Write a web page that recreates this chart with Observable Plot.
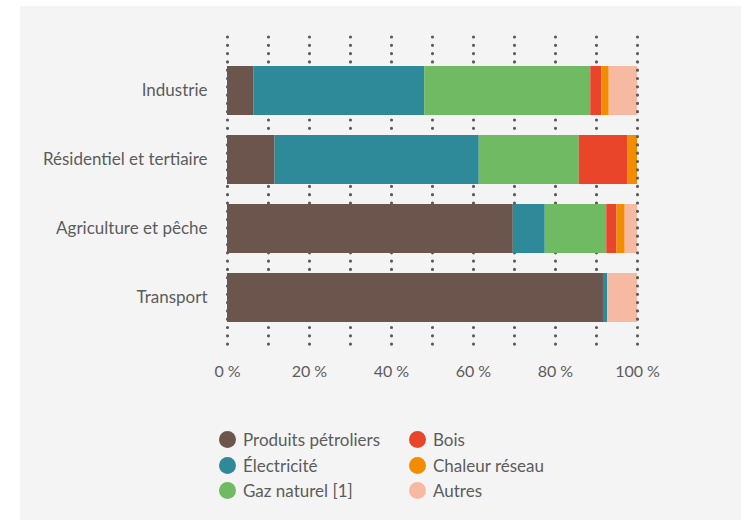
<!DOCTYPE html>
<html>
<head>
<meta charset="utf-8">
<script src="https://cdn.jsdelivr.net/npm/d3@7"></script>
<script src="https://cdn.jsdelivr.net/npm/@observablehq/plot@0.6"></script>
<style>
  html, body { margin: 0; padding: 0; background: #ffffff; width: 745px; height: 520px; overflow: hidden; }
  #panel { position: absolute; left: 20px; top: 6px; width: 721px; height: 514px; background: #f4f4f4; }
  #chart { position: absolute; left: 0; top: 0; }
  #legend { position: absolute; left: 219px; top: 427px; display: grid; grid-template-columns: 190px auto; grid-auto-rows: 25.5px;
            font-family: Lato, sans-serif; font-size: 17px; color: #5c5c5c; }
  .item { display: flex; align-items: center; }
  .sw { width: 17px; height: 17px; border-radius: 50%; margin-right: 7px; flex: none; }
  #chart svg g[aria-label="y-axis tick label"] text { font-size: 17px; }
</style>
</head>
<body>
<div id="panel"></div>
<div id="chart"></div>
<div id="legend"></div>
<script>
// Categories (top to bottom)
const sectors = ["Industrie", "Résidentiel et tertiaire", "Agriculture et pêche", "Transport"];
// Energy series (stack order, left to right)
const energies = ["Produits pétroliers", "Électricité", "Gaz naturel [1]", "Bois", "Chaleur réseau", "Autres"];
const colors = ["#6b554c", "#2e8a99", "#6fba63", "#e8452a", "#f28c00", "#f6b9a2"];
// Shares (%) per sector, same order as sectors
const produitsPetroliers = [6.4, 11.6, 69.7, 91.7];
const electricite        = [41.7, 49.8, 7.8, 1.0];
const gazNaturel         = [40.5, 24.4, 15.0, 0];
const bois               = [2.7, 11.9, 2.5, 0];
const chaleurReseau      = [1.8, 2.3, 2.0, 0];
const autres             = [6.9, 0, 3.0, 7.3];
// Axis ticks
const gridTicks = [0, 10, 20, 30, 40, 50, 60, 70, 80, 90, 100];
const labelTicks = [0, 20, 40, 60, 80, 100];
const edgeTicks = [0, 100];

const seriesValues = [produitsPetroliers, electricite, gazNaturel, bois, chaleurReseau, autres];
const data = [];
energies.forEach((e, i) => sectors.forEach((s, j) => data.push({sector: s, energy: e, value: seriesValues[i][j]})));

const grid = {stroke: "#5c5c5c", strokeWidth: 3.2, strokeDasharray: "0,8.3", strokeLinecap: "round", strokeOpacity: 1};

const chart = Plot.plot({
  width: 745,
  height: 400,
  marginLeft: 227,
  marginRight: 108,
  marginTop: 37,
  marginBottom: 48,
  style: {background: "transparent", fontFamily: "Lato, sans-serif", fontSize: "16px", color: "#5c5c5c"},
  x: {domain: [0, 100], ticks: labelTicks, tickFormat: d => d + "\u202f%", tickSize: 0, tickPadding: 13, label: null},
  y: {domain: sectors, paddingInner: 20 / 70, paddingOuter: 0.393, tickSize: 0, tickPadding: 20, label: null},
  color: {domain: energies, range: colors},
  marks: [
    Plot.ruleX(gridTicks.filter(t => t !== 0 && t !== 100), grid),
    Plot.barX(data, Plot.stackX({x: "value", y: "sector", fill: "energy", order: null})),
    Plot.ruleX(edgeTicks, grid)
  ]
});
chart.querySelectorAll('g[aria-label="y-axis tick label"] text').forEach(t => t.setAttribute("font-size", 17));
document.getElementById("chart").appendChild(chart);

const legend = document.getElementById("legend");
const order = [0, 3, 1, 4, 2, 5];
order.forEach(i => {
  const d = document.createElement("div");
  d.className = "item";
  d.innerHTML = `<span class="sw" style="background:${colors[i]}"></span><span>${energies[i]}</span>`;
  legend.appendChild(d);
});
</script>
</body>
</html>
